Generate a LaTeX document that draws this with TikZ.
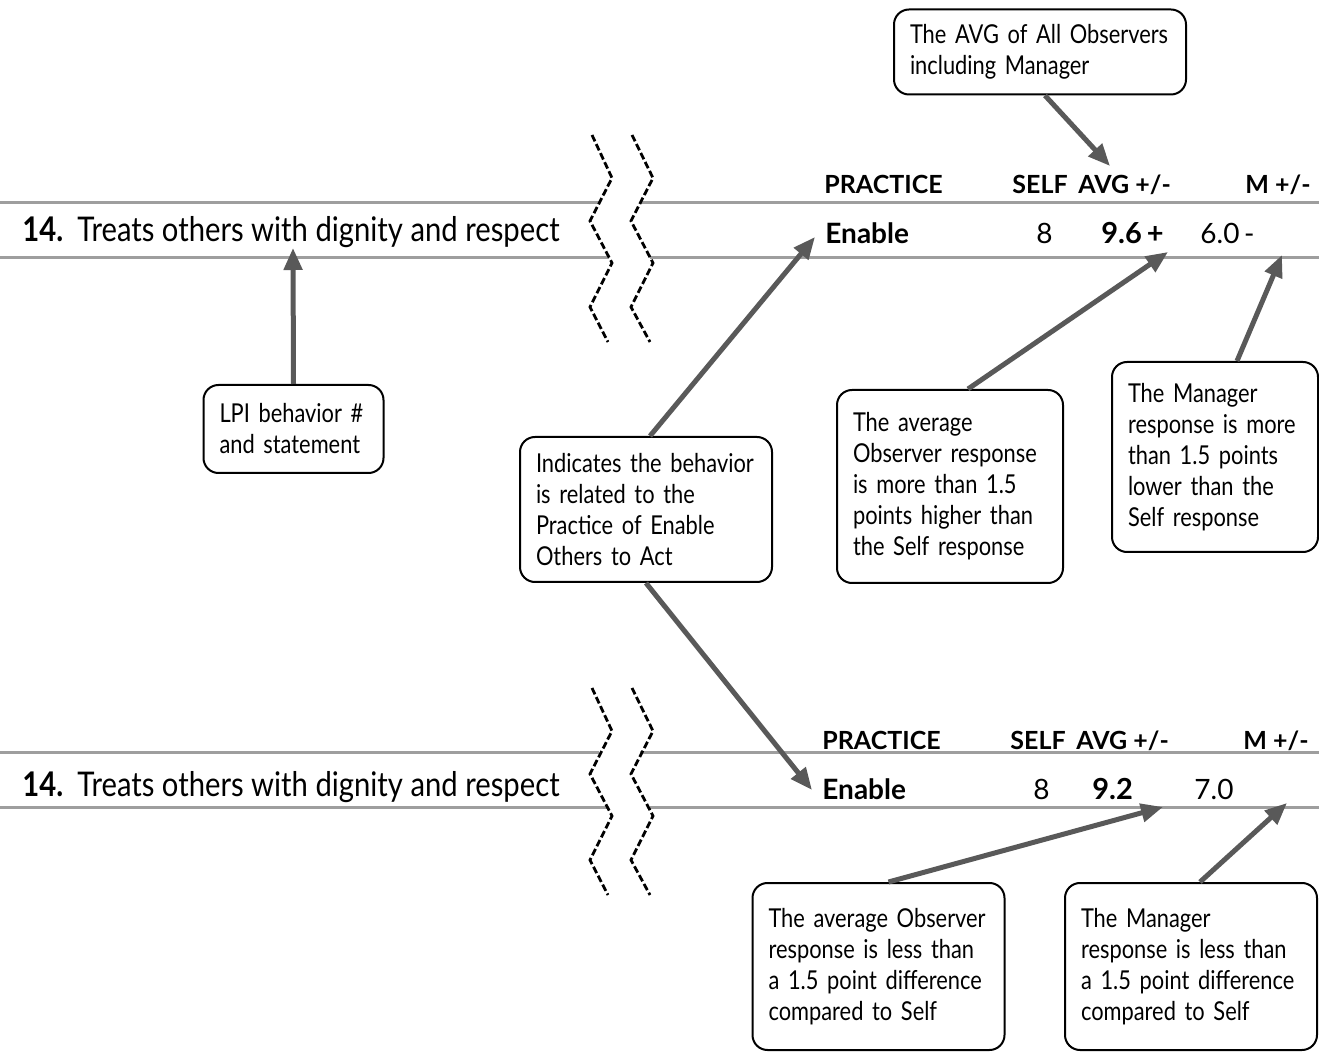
\documentclass[tikz,border=0pt]{standalone}
\usepackage{fontspec}
\setmainfont{Lato}
\newfontfamily\headfont[FakeStretch=0.86]{Lato}
\newfontfamily\notefont[FakeStretch=0.84]{Lato}
\usetikzlibrary{arrows.meta, positioning, calc}
\hyphenpenalty=10000

\begin{document}
\begin{tikzpicture}[
  x=0.5pt, y=-0.5pt,
  note/.style={draw, line width=1pt, rounded corners=7.5pt, fill=white, align=left, inner xsep=8pt, inner ysep=0pt, font=\notefont\fontsize{13}{15.5}\selectfont},
  rule/.style={draw=black!38, line width=1.5pt},
  zig/.style={draw, line width=1.4pt, dash pattern=on 3.5pt off 1.5pt},
  arr/.style={-{Triangle[length=11pt, width=9pt]}, line width=2.5pt, draw=black!65},
  behav/.style={anchor=base west, inner sep=0pt, font=\headfont\fontsize{17}{20}\selectfont},
  colhead/.style={anchor=base west, inner sep=0pt, font=\fontsize{12.5}{14}\selectfont\bfseries},
  cell/.style={anchor=base west, inner sep=0pt, font=\fontsize{14}{16}\selectfont}
]
\useasboundingbox (0,0) rectangle (1319,1053);

% upper row
\draw[rule] (0,203) -- (599,203);
\draw[rule] (640,203) -- (1319,203);
\draw[rule] (0,258) -- (609,258);
\draw[rule] (650,258) -- (1319,258);
\draw[zig] (592,135) -- (612,178) -- (590,221) -- (612,263) -- (590,307) -- (608,342);
\draw[zig] (632,135) -- (653,178) -- (631,221) -- (653,263) -- (631,307) -- (650,342);
\node[behav] (behav1) at (22,242) {\bfseries 14.\ \ \mdseries Treats others with dignity and respect};
\node[colhead] (prac1) at (824,194) {PRACTICE};
\node[colhead] (self1) at (1012,194) {SELF};
\node[colhead] (avg1) at (1078,194) {AVG +/-};
\node[colhead] (mgr1) at (1245,194) {M +/-};
\node[cell, font=\fontsize{14}{16}\selectfont\bfseries] (enab1) at (825,244) {Enable};
\node[cell] (sval1) at (1036,244) {8};
\node[cell, font=\fontsize{14.5}{16}\selectfont\bfseries] (aval1) at (1101,244) {9.6\,+};
\node[cell] (mval1) at (1200,244) {6.0\,-};

% lower row
\draw[rule] (0,753) -- (599,753);
\draw[rule] (640,753) -- (1319,753);
\draw[rule] (0,808) -- (609,808);
\draw[rule] (650,808) -- (1319,808);
\draw[zig] (592,688) -- (612,731) -- (590,774) -- (612,816) -- (590,860) -- (608,895);
\draw[zig] (632,688) -- (653,731) -- (631,774) -- (653,816) -- (631,860) -- (650,895);
\node[behav] (behav2) at (22,797) {\bfseries 14.\ \ \mdseries Treats others with dignity and respect};
\node[colhead] (prac2) at (822,750) {PRACTICE};
\node[colhead] (self2) at (1010,750) {SELF};
\node[colhead] (avg2) at (1076,750) {AVG +/-};
\node[colhead] (mgr2) at (1243,750) {M +/-};
\node[cell, font=\fontsize{14}{16}\selectfont\bfseries] (enab2) at (822,799) {Enable};
\node[cell] (sval2) at (1033,799) {8};
\node[cell, font=\fontsize{14.5}{16}\selectfont\bfseries] (aval2) at (1092,799) {9.2};
\node[cell] (mval2) at (1194,799) {7.0};

% notes
\node[note, text width=130pt, minimum height=42.5pt] (avgall) at (1040,52) {The AVG of All Observers\\including Manager};
\node[note, text width=74pt, minimum height=44pt] (lpi) at (293.5,429) {LPI behavior \#\\and statement};
\node[note, text width=110pt, minimum height=72.5pt] (indic) at (646,509.5) {Indicates the behavior\\is related to the\\Practice of Enable\\Others to Act};
\node[note, text width=97pt, minimum height=96.5pt] (hiavg) at (950,486.5) {The average\\Observer response\\is more than 1.5\\points higher than\\the Self response};
\node[note, text width=87pt, minimum height=95pt] (lomgr) at (1215,457) {The Manager\\response is more\\than 1.5 points\\lower than the\\Self response};
\node[note, text width=110pt, minimum height=83.5pt] (eqavg) at (878.5,966.5) {The average Observer\\response is less than\\a 1.5 point difference\\compared to Self};
\node[note, text width=110pt, minimum height=83.5pt] (eqmgr) at (1191,966.5) {The Manager\\response is less than\\a 1.5 point difference\\compared to Self};

% arrow tips
\coordinate (tavg) at (1110,166);
\coordinate (tlpi) at (293,248);
\coordinate (tprac1) at (815,237);
\coordinate (tprac2) at (812,790);
\coordinate (thi) at (1168,252);
\coordinate (tlo) at (1282,255);
\coordinate (teqa) at (1163,807);
\coordinate (teqm) at (1287,803);

\draw[arr] ($(avgall.south)+(5,0)$) -- (tavg);
\draw[arr] (lpi.north) -- (tlpi);
\draw[arr] ($(indic.north)+(4,0)$) -- (tprac1);
\draw[arr] (indic.south) -- (tprac2);
\draw[arr] ($(hiavg.north)+(18,0)$) -- (thi);
\draw[arr] ($(lomgr.north)+(22,0)$) -- (tlo);
\draw[arr] ($(eqavg.north)+(10,0)$) -- (teqa);
\draw[arr] ($(eqmgr.north)+(9,0)$) -- (teqm);
\end{tikzpicture}
\end{document}
